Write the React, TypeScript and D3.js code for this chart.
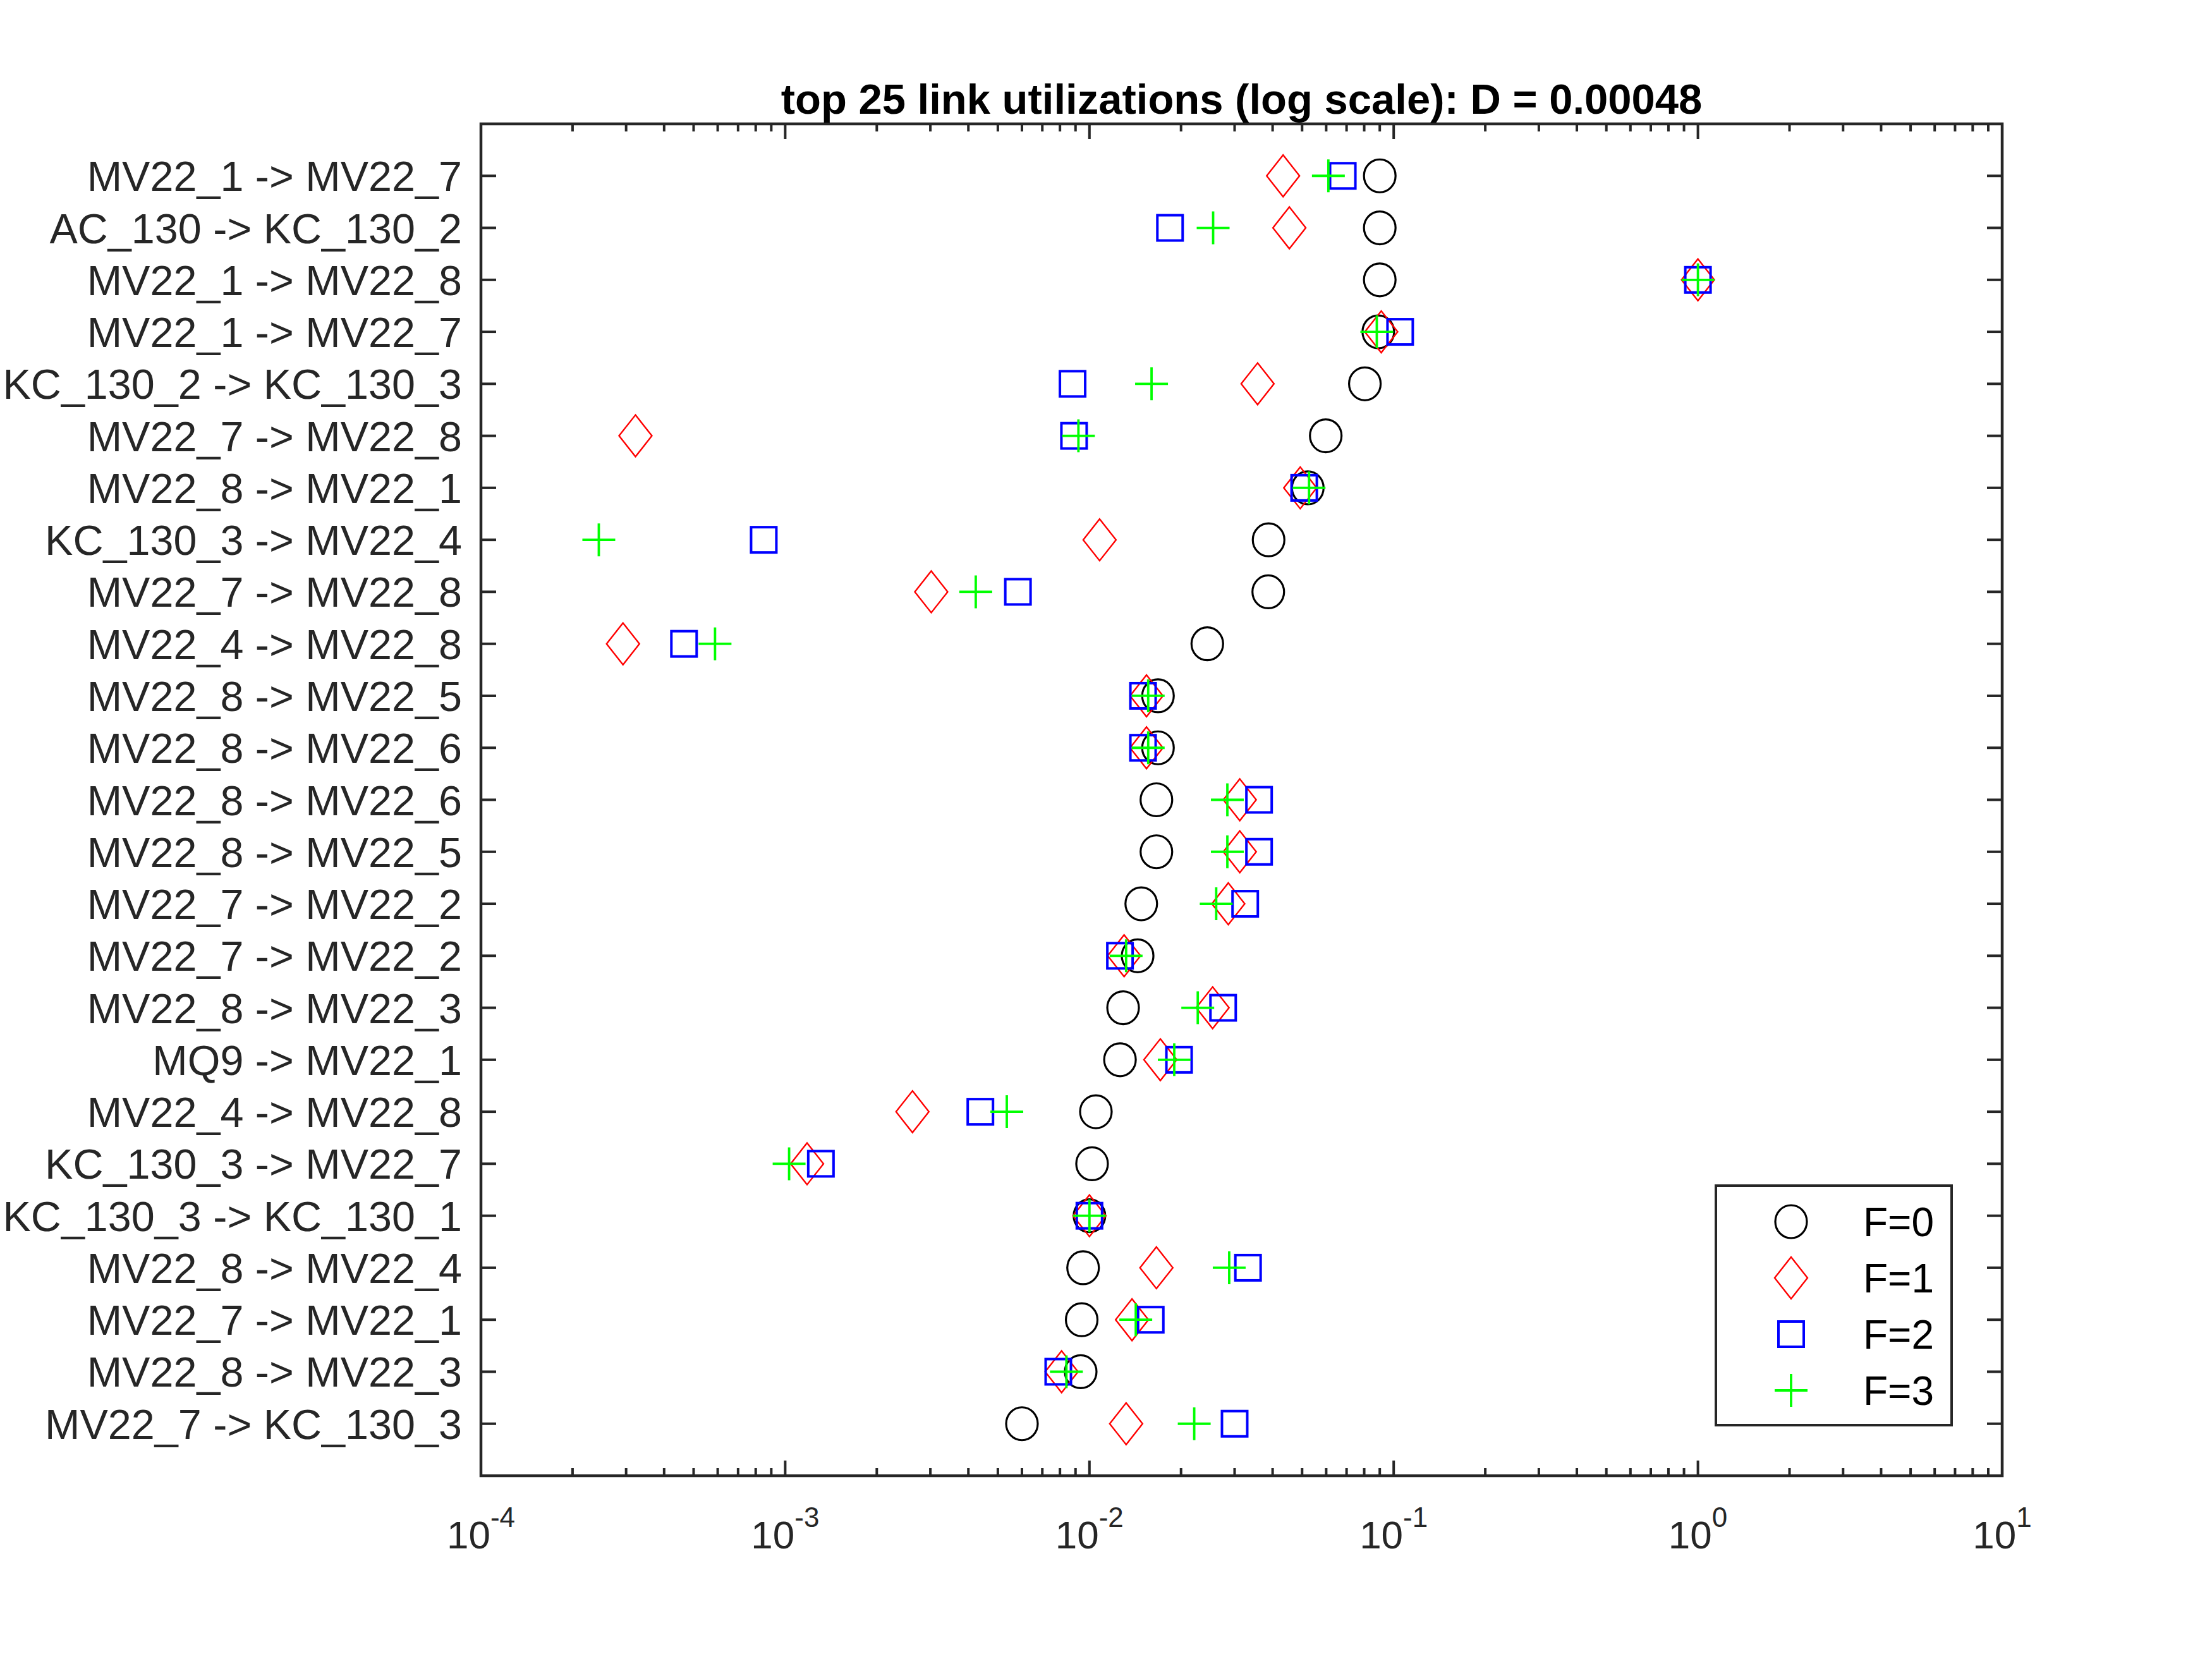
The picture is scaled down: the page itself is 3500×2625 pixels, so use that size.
import React from "react";
import * as d3 from "d3";

// Link names, top to bottom
const links: string[] = [
  "MV22_1 -> MV22_7",
  "AC_130 -> KC_130_2",
  "MV22_1 -> MV22_8",
  "MV22_1 -> MV22_7",
  "KC_130_2 -> KC_130_3",
  "MV22_7 -> MV22_8",
  "MV22_8 -> MV22_1",
  "KC_130_3 -> MV22_4",
  "MV22_7 -> MV22_8",
  "MV22_4 -> MV22_8",
  "MV22_8 -> MV22_5",
  "MV22_8 -> MV22_6",
  "MV22_8 -> MV22_6",
  "MV22_8 -> MV22_5",
  "MV22_7 -> MV22_2",
  "MV22_7 -> MV22_2",
  "MV22_8 -> MV22_3",
  "MQ9 -> MV22_1",
  "MV22_4 -> MV22_8",
  "KC_130_3 -> MV22_7",
  "KC_130_3 -> KC_130_1",
  "MV22_8 -> MV22_4",
  "MV22_7 -> MV22_1",
  "MV22_8 -> MV22_3",
  "MV22_7 -> KC_130_3",
];

// Link utilization for each failure count F
const utilF0: number[] = [
  0.09, 0.09, 0.09, 0.089, 0.0804, 0.0598, 0.0522, 0.0388, 0.0387, 0.0244,
  0.0168, 0.0168, 0.0166, 0.0166, 0.0148, 0.0144, 0.0129, 0.0126, 0.0105,
  0.0102, 0.01, 0.00953, 0.00943, 0.00936, 0.006,
];
const utilF1: number[] = [
  0.0433, 0.0454, 1.0, 0.091, 0.0357, 0.000322, 0.0493, 0.0108, 0.00302,
  0.000293, 0.0154, 0.0154, 0.0312, 0.0312, 0.0286, 0.013, 0.0254, 0.0171,
  0.00262, 0.00118, 0.01, 0.0166, 0.0138, 0.0081, 0.0132,
];
const utilF2: number[] = [
  0.068, 0.0184, 1.0, 0.105, 0.0088, 0.0089, 0.0508, 0.00085, 0.00582,
  0.000465, 0.015, 0.015, 0.0361, 0.0361, 0.0325, 0.0126, 0.0275, 0.0197,
  0.00438, 0.00131, 0.01, 0.0332, 0.0159, 0.0079, 0.03,
];
const utilF3: number[] = [
  0.061, 0.0255, 1.0, 0.088, 0.016, 0.0092, 0.0527, 0.000244, 0.00423,
  0.000588, 0.0156, 0.0156, 0.0284, 0.0284, 0.0261, 0.0132, 0.0227, 0.019,
  0.00535, 0.00103, 0.01, 0.0288, 0.0142, 0.0084, 0.0221,
];

const seriesNames: string[] = ["F=0", "F=1", "F=2", "F=3"];
const xDecades: number[] = [-4, -3, -2, -1, 0, 1];

const titleText = "top 25 link utilizations (log scale): D = 0.00048";

type Shape = "circle" | "diamond" | "square" | "plus";
const series: { name: string; values: number[]; shape: Shape; color: string }[] = [
  { name: seriesNames[0], values: utilF0, shape: "circle", color: "#000000" },
  { name: seriesNames[1], values: utilF1, shape: "diamond", color: "#ff0000" },
  { name: seriesNames[2], values: utilF2, shape: "square", color: "#0000ff" },
  { name: seriesNames[3], values: utilF3, shape: "plus", color: "#00ff00" },
];

const W = 3500;
const H = 2625;
const L = 761;
const R = 3168;
const T = 196;
const B = 2335;
const AX = "#262626";
const FONT = "'Liberation Sans', Arial, Helvetica, sans-serif";

function Marker({ shape, cx, cy, color }: { shape: Shape; cx: number; cy: number; color: string }) {
  switch (shape) {
    case "circle":
      return <ellipse cx={cx} cy={cy} rx={25} ry={26} fill="none" stroke={color} strokeWidth={3.2} />;
    case "diamond":
      return (
        <path
          d={`M${cx},${cy - 33}L${cx + 26},${cy}L${cx},${cy + 33}L${cx - 26},${cy}Z`}
          fill="none"
          stroke={color}
          strokeWidth={2.4}
          strokeLinejoin="miter"
        />
      );
    case "square":
      return <rect x={cx - 20} y={cy - 20} width={40} height={40} fill="none" stroke={color} strokeWidth={4} />;
    case "plus":
      return (
        <path
          d={`M${cx - 26},${cy}H${cx + 26}M${cx},${cy - 26}V${cy + 26}`}
          fill="none"
          stroke={color}
          strokeWidth={3.8}
        />
      );
  }
}

export default function App() {
  const x = d3.scaleLog().domain([1e-4, 10]).range([L, R]);
  const y = d3.scaleLinear().domain([0, 26]).range([T, B]);

  const xTicks = x.ticks();
  const isMajor = (v: number) => Math.abs(Math.log10(v) - Math.round(Math.log10(v))) < 1e-9;
  const rows = d3.range(1, links.length + 1);

  const legX = 2715;
  const legY = 1876;
  const legW = 373;
  const legH = 379;

  return (
    <svg
      width={W}
      height={H}
      viewBox={`0 0 ${W} ${H}`}
      style={{ position: "absolute", left: 0, top: 0, background: "#ffffff" }}
      fontFamily={FONT}
    >
      <rect x={0} y={0} width={W} height={H} fill="#ffffff" />

      {/* x ticks, bottom and top, pointing inward */}
      <g stroke={AX} strokeWidth={4}>
        {xTicks.map((v, i) => {
          const len = isMajor(v) ? 24 : 12;
          const px = x(v);
          return (
            <g key={i}>
              <line x1={px} x2={px} y1={B} y2={B - len} />
              <line x1={px} x2={px} y1={T} y2={T + len} />
            </g>
          );
        })}
        {rows.map((r) => (
          <g key={r}>
            <line x1={L} x2={L + 24} y1={y(r)} y2={y(r)} />
            <line x1={R} x2={R - 24} y1={y(r)} y2={y(r)} />
          </g>
        ))}
      </g>

      {/* data markers */}
      {series.map((s) => (
        <g key={s.name}>
          {s.values.map((v, i) => (
            <Marker key={i} shape={s.shape} cx={x(v)} cy={y(i + 1)} color={s.color} />
          ))}
        </g>
      ))}

      {/* axes box */}
      <rect x={L} y={T} width={R - L} height={B - T} fill="none" stroke={AX} strokeWidth={4.5} />

      {/* y tick labels */}
      <g fill={AX} fontSize={66.5} textAnchor="end">
        {links.map((name, i) => (
          <text key={i} x={731} y={y(i + 1) + 24}>
            {name}
          </text>
        ))}
      </g>

      {/* x tick labels */}
      <g fill={AX} textAnchor="middle">
        {xDecades.map((e) => (
          <text key={e} x={x(Math.pow(10, e))} y={2450} fontSize={62}>
            10
            <tspan fontSize={44} dy={-34}>
              {String(e)}
            </tspan>
          </text>
        ))}
      </g>

      {/* title */}
      <text x={(L + R) / 2} y={180} textAnchor="middle" fontSize={67} fontWeight="bold" fill="#000000">
        {titleText}
      </text>

      {/* legend */}
      <rect x={legX} y={legY} width={legW} height={legH} fill="#ffffff" stroke={AX} strokeWidth={4} />
      {series.map((s, i) => {
        const cy = 1933 + i * 89;
        return (
          <g key={s.name}>
            <Marker shape={s.shape} cx={2834} cy={cy} color={s.color} />
            <text x={2948} y={cy + 23} fontSize={64} fill="#000000">
              {s.name}
            </text>
          </g>
        );
      })}
    </svg>
  );
}
